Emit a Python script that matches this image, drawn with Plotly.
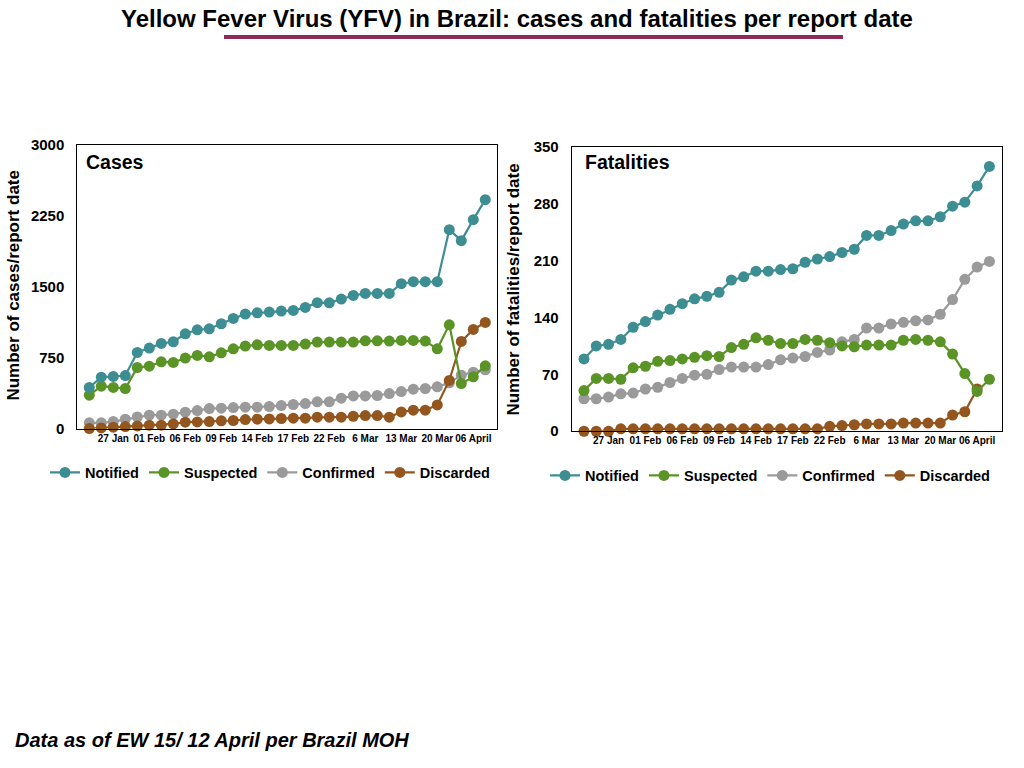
import plotly.graph_objects as go

# ---------------- data ----------------
report_index = list(range(34))
tick_positions = [2, 5, 8, 11, 14, 17, 20, 23, 26, 29, 32]
tick_labels = ["27 Jan", "01 Feb", "06 Feb", "09 Feb", "14 Feb", "17 Feb",
               "22 Feb", "6 Mar", "13 Mar", "20 Mar", "06 April"]

cases_notified = [434, 543, 550, 560, 804, 850, 899, 917, 1001, 1043, 1054, 1107,
                  1163, 1209, 1223, 1230, 1241, 1248, 1280, 1330, 1328, 1368, 1406,
                  1428, 1428, 1428, 1530, 1551, 1551, 1551, 2101, 1985, 2207, 2418]
cases_suspected = [352, 448, 434, 423, 645, 659, 705, 698, 744, 772, 758, 800,
                   842, 871, 885, 878, 878, 878, 892, 913, 913, 913, 913,
                   927, 927, 924, 931, 931, 924, 842, 1096, 476, 546, 663]
cases_confirmed = [60, 60, 74, 99, 123, 141, 141, 152, 173, 190, 211, 215,
                   222, 226, 226, 233, 243, 254, 264, 282, 282, 321, 345,
                   345, 349, 370, 391, 416, 423, 441, 483, 564, 596, 620]
cases_discarded = [0, 7, 14, 21, 28, 35, 35, 49, 67, 70, 74, 81,
                   85, 95, 99, 102, 106, 109, 109, 120, 120, 120, 130,
                   137, 137, 120, 176, 194, 194, 250, 508, 920, 1047, 1121]

fat_notified = [89, 105, 107, 113, 128, 135, 143, 150, 157, 163, 166, 171,
                186, 190, 197, 197, 199, 200, 208, 212, 215, 220, 224,
                241, 241, 247, 255, 259, 259, 264, 277, 282, 302, 326]
fat_suspected = [50, 65, 65, 64, 78, 80, 86, 87, 89, 91, 93, 92,
                 103, 107, 115, 112, 108, 108, 113, 112, 109, 105, 104,
                 106, 106, 106, 112, 113, 112, 110, 95, 71, 49, 64]
fat_confirmed = [40, 40, 42, 46, 47, 52, 54, 60, 65, 69, 70, 76,
                 79, 79, 79, 82, 88, 90, 92, 97, 100, 110, 113,
                 127, 127, 132, 134, 136, 137, 144, 162, 187, 202, 209]
fat_discarded = [0, 0, 0, 3, 3, 3, 3, 3, 3, 3, 3, 3,
                 3, 3, 3, 3, 3, 3, 3, 3, 6, 7, 8,
                 9, 9, 9, 10, 10, 10, 10, 20, 24, 52, None]

series_names = ["Notified", "Suspected", "Confirmed", "Discarded"]
series_colors = ["#3D8E93", "#5A9427", "#9A9A9A", "#94561F"]

cases_y_ticks = [0, 750, 1500, 2250, 3000]
fat_y_ticks = [0, 70, 140, 210, 280, 350]

# ---------------- figure ----------------
FONT = "Liberation Sans, Arial, Helvetica, sans-serif"
fig = go.Figure()

cases_data = [cases_notified, cases_suspected, cases_confirmed, cases_discarded]
fat_data = [fat_notified, fat_suspected, fat_confirmed, fat_discarded]
draw_order = [2, 3, 1, 0]  # confirmed, discarded, suspected, notified (top)

for panel, (data, xa, ya, leg) in enumerate([(cases_data, "x", "y", "legend"),
                                             (fat_data, "x2", "y2", "legend2")]):
    for k in draw_order:
        fig.add_trace(go.Scatter(
            x=report_index, y=data[k], name=series_names[k],
            mode="lines+markers", xaxis=xa, yaxis=ya, legend=leg,
            legendrank=k + 1, cliponaxis=False,
            line=dict(color=series_colors[k], width=2.2),
            marker=dict(color=series_colors[k], size=11),
            connectgaps=False, hoverinfo="x+y+name"))

W, H = 1024, 768
def px_x(v):
    return v / W
def px_y(v):
    # compensate the vertical mapping observed in the rendered screenshot
    page_y = (v - 9.4) / 0.978
    return (H - page_y) / H

axis_common = dict(showgrid=False, zeroline=False, showline=True, linecolor="black",
                   linewidth=1, mirror=True, ticks="")

fig.update_layout(
    width=W, height=H, autosize=False,
    margin=dict(l=0, r=0, t=0, b=0),
    paper_bgcolor="white", plot_bgcolor="white",
    font=dict(family=FONT, color="black"),
    showlegend=True,
    xaxis=dict(domain=[px_x(77.3), px_x(497.3)], range=[-1, 34], anchor="y",
               tickvals=tick_positions, ticktext=tick_labels, tickangle=0,
               tickfont=dict(size=10, weight="bold", family=FONT), **axis_common),
    yaxis=dict(domain=[px_y(429), px_y(145)], range=[0, 3000], anchor="x",
               tickvals=cases_y_ticks, ticklabelstandoff=9,
               tickfont=dict(size=15, weight="bold", family=FONT), **axis_common),
    xaxis2=dict(domain=[px_x(571.7), px_x(1001.7)], range=[-1, 34], anchor="y2",
                tickvals=tick_positions, ticktext=tick_labels, tickangle=0,
                tickfont=dict(size=10, weight="bold", family=FONT), **axis_common),
    yaxis2=dict(domain=[px_y(431.7), px_y(147.3)], range=[0, 350], anchor="x2",
                tickvals=fat_y_ticks, ticklabelstandoff=9,
                tickfont=dict(size=15, weight="bold", family=FONT), **axis_common),
    legend=dict(orientation="h", x=px_x(270), xanchor="center", y=px_y(473),
                yanchor="middle", font=dict(size=14.5, weight="bold", family=FONT),
                bgcolor="rgba(0,0,0,0)", traceorder="normal", itemwidth=30),
    legend2=dict(orientation="h", x=px_x(770), xanchor="center", y=px_y(476),
                 yanchor="middle", font=dict(size=14.5, weight="bold", family=FONT),
                 bgcolor="rgba(0,0,0,0)", traceorder="normal", itemwidth=30),
)

annotations = [
    dict(text="Yellow Fever Virus (YFV) in Brazil: cases and fatalities per report date",
         x=px_x(517), y=px_y(19), xref="paper", yref="paper", showarrow=False,
         xanchor="center", yanchor="middle",
         font=dict(size=24, weight="bold", family="Liberation Sans Narrow, " + FONT)),
    dict(text="Cases", x=px_x(84), y=px_y(162), xref="paper", yref="paper",
         showarrow=False, xanchor="left", yanchor="middle",
         font=dict(size=19.5, weight="bold", family=FONT)),
    dict(text="Fatalities", x=px_x(583), y=px_y(162), xref="paper", yref="paper",
         showarrow=False, xanchor="left", yanchor="middle",
         font=dict(size=19.5, weight="bold", family=FONT)),
    dict(text="Number of cases/report date", x=px_x(14), y=px_y(286),
         xref="paper", yref="paper", showarrow=False, textangle=-90,
         xanchor="center", yanchor="middle",
         font=dict(size=17, weight="bold", family=FONT)),
    dict(text="Number of fatalities/report date", x=px_x(514), y=px_y(290),
         xref="paper", yref="paper", showarrow=False, textangle=-90,
         xanchor="center", yanchor="middle",
         font=dict(size=17, weight="bold", family=FONT)),
    dict(text="<i>Data as of EW 15/ 12 April per Brazil MOH</i>", x=px_x(13), y=px_y(741),
         xref="paper", yref="paper", showarrow=False, xanchor="left", yanchor="middle",
         font=dict(size=20, weight="bold", family=FONT)),
]
fig.update_layout(annotations=annotations)

fig.add_shape(type="rect", xref="paper", yref="paper",
              x0=px_x(224), x1=px_x(843), y0=px_y(39.5), y1=px_y(35.5),
              fillcolor="#8B2B56", line=dict(width=0))

fig.write_html(
    "out.html",
    config={"displayModeBar": False},
    post_script=(
        "document.documentElement.style.margin='0';"
        "document.documentElement.style.overflow='hidden';"
        "document.body.style.margin='0';"
        "document.body.style.padding='0';"
        "document.body.style.overflow='hidden';"
        "var gd=document.getElementById('{plot_id}');"
        "gd.style.position='fixed';gd.style.top='0px';gd.style.left='0px';"
    ),
)
